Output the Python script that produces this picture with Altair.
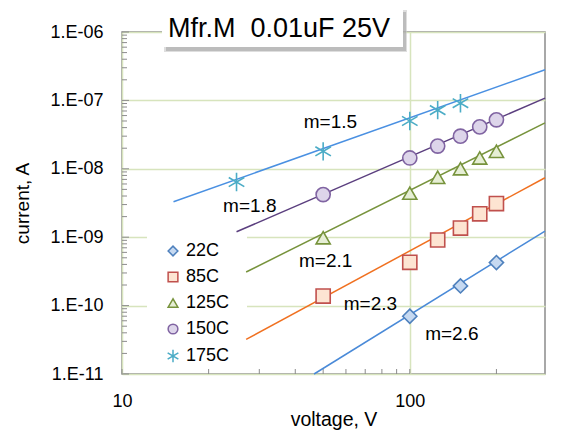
import altair as alt
import pandas as pd

# ---------------- data ----------------
series = ["22C", "85C", "125C", "150C", "175C"]

volts_22 = [100, 150, 200]
cur_22 = [7.0e-11, 1.94e-10, 4.25e-10]

volts_85 = [50, 100, 125, 150, 175, 200]
cur_85 = [1.38e-10, 4.3e-10, 9.1e-10, 1.36e-9, 2.2e-9, 3.1e-9]

volts_125 = [50, 100, 125, 150, 175, 200]
cur_125 = [9.8e-10, 4.4e-9, 7.5e-9, 1.0e-8, 1.44e-8, 1.8e-8]

volts_150 = [50, 100, 125, 150, 175, 200]
cur_150 = [4.2e-9, 1.44e-8, 2.15e-8, 3.0e-8, 4.1e-8, 5.2e-8]

volts_175 = [25, 50, 100, 125, 150]
cur_175 = [6.4e-9, 1.8e-8, 5.0e-8, 7.2e-8, 9.1e-8]

# fitted power-law lines (start / end points)
fit_v_start = [46.5, 27, 27, 25, 15.1]
fit_i_start = [1.0e-11, 3.2e-11, 3.1e-10, 1.2e-9, 3.3e-9]
fit_v_end = [295, 295, 295, 295, 295]
fit_i_end = [1.23e-9, 7.4e-9, 4.7e-8, 1.08e-7, 2.8e-7]

# slope labels
m_text = ["m=2.6", "m=2.3", "m=2.1", "m=1.8", "m=1.5"]
m_v = [140, 73, 51, 27.8, 53]
m_i = [3.85e-11, 1.05e-10, 4.5e-10, 2.86e-9, 4.8e-8]

y_major = [1e-11, 1e-10, 1e-9, 1e-8, 1e-7, 1e-6]
x_major = [10, 100]
y_minor = [m * d for d in [1e-11, 1e-10, 1e-9, 1e-8, 1e-7] for m in range(2, 10)]
x_minor = [20, 30, 40, 50, 60, 70, 80, 90, 200]

title_text = "Mfr.M\u00a0 0.01uF 25V"

# ---------------- tables ----------------
pts = pd.concat([
    pd.DataFrame({"series": s, "voltage": v, "current": c})
    for s, v, c in zip(series,
                       [volts_22, volts_85, volts_125, volts_150, volts_175],
                       [cur_22, cur_85, cur_125, cur_150, cur_175])
], ignore_index=True)

lines = pd.DataFrame({
    "series": series * 2,
    "voltage": fit_v_start + fit_v_end,
    "current": fit_i_start + fit_i_end,
})

labels = pd.DataFrame({"text": m_text, "voltage": m_v, "current": m_i})

FONT = "Liberation Sans"
W, H = 423, 342

xscale = alt.Scale(type="log", domain=[10, 295], nice=False)
yscale = alt.Scale(type="log", domain=[1e-11, 1e-6], nice=False)

asterisk = "M0,-1.3L0,1.3M-1.1,-0.65L1.1,0.65M-1.1,0.65L1.1,-0.65"

fill_colors = ["#c6d9f1", "#fde4d2", "#e6eed5", "#ddd5ea", "transparent"]
stroke_colors = ["#4f81bd", "#c0504d", "#77933c", "#8064a2", "#4bacc6"]
line_colors = ["#4a8ad8", "#f07020", "#77933c", "#5b3f7f", "#4a90e2"]

# white box behind the legend
legend_bg = alt.Chart(pd.DataFrame({"a": [0]})).mark_rect(color="white").encode(
    x=alt.value(25), x2=alt.value(125), y=alt.value(202), y2=alt.value(334)
)

fit = alt.Chart(lines).mark_line(strokeWidth=1.5).encode(
    x=alt.X("voltage:Q", scale=xscale,
            axis=alt.Axis(values=x_major, format="d", title="voltage, V",
                          grid=True, gridColor="#d7e4bd", gridWidth=1.5,
                          ticks=False, tickSize=0, domain=False, labelFlush=False,
                          labelFontSize=18, labelFont=FONT, labelPadding=18,
                          labelColor="black",
                          titleFontSize=19.5, titleFont=FONT, titleFontWeight="normal",
                          titleColor="black", titleBaseline="alphabetic",
                          titleX=W / 2, titleY=51)),
    y=alt.Y("current:Q", scale=yscale,
            axis=alt.Axis(values=y_major, title="current, A",
                          labelExpr="'1.E-' + (round(-log(datum.value)/LN10) < 10 ? '0' : '') + round(-log(datum.value)/LN10)",
                          grid=True, gridColor="#d7e4bd", gridWidth=1.5,
                          ticks=False, tickSize=0, domain=False, labelFlush=False,
                          labelFontSize=18, labelFont=FONT, labelPadding=19,
                          labelColor="black",
                          titleFontSize=19, titleFont=FONT, titleFontWeight="normal",
                          titleColor="black", titleBaseline="alphabetic",
                          titleX=-94, titleY=H / 2, titleAngle=270)),
    color=alt.Color("series:N", scale=alt.Scale(domain=series, range=line_colors),
                    legend=None),
    detail="series:N",
)

points = alt.Chart(pts).mark_point(filled=False, size=200, strokeWidth=1.6, opacity=1).encode(
    x=alt.X("voltage:Q", scale=xscale),
    y=alt.Y("current:Q", scale=yscale),
    shape=alt.Shape("series:N", scale=alt.Scale(domain=series,
                    range=["diamond", "square", "triangle-up", "circle", asterisk]),
                    title=None),
    fill=alt.Fill("series:N", scale=alt.Scale(domain=series, range=fill_colors), title=None),
    stroke=alt.Stroke("series:N", scale=alt.Scale(domain=series, range=stroke_colors), title=None),
)

mlabels = alt.Chart(labels).mark_text(fontSize=19, font=FONT, color="black",
                                      align="center", baseline="middle").encode(
    x=alt.X("voltage:Q", scale=xscale),
    y=alt.Y("current:Q", scale=yscale),
    text="text:N",
)

yminor = alt.Chart(pd.DataFrame({"current": y_minor})).mark_rule(color="#8c8c8c", strokeWidth=1).encode(
    y=alt.Y("current:Q", scale=yscale), x=alt.value(0), x2=alt.value(5)
)
ymajor = alt.Chart(pd.DataFrame({"current": y_major})).mark_rule(color="#8c8c8c", strokeWidth=1).encode(
    y=alt.Y("current:Q", scale=yscale), x=alt.value(0), x2=alt.value(7)
)
xminor = alt.Chart(pd.DataFrame({"voltage": x_minor + x_major})).mark_rule(color="#8c8c8c", strokeWidth=1).encode(
    x=alt.X("voltage:Q", scale=xscale), y=alt.value(H), y2=alt.value(H - 5)
)

tdf = pd.DataFrame({"t": [title_text]})
shadow = alt.Chart(tdf).mark_rect(color="#9a9a9a", opacity=0.5).encode(
    x=alt.value(44), x2=alt.value(284), y=alt.value(-20), y2=alt.value(19)
)
shadow2 = alt.Chart(tdf).mark_rect(color="#c8c8c8", opacity=0.6).encode(
    x=alt.value(42), x2=alt.value(285), y=alt.value(-22), y2=alt.value(20)
)
box = alt.Chart(tdf).mark_rect(color="white").encode(
    x=alt.value(40), x2=alt.value(281), y=alt.value(-24), y2=alt.value(15)
)
ttext = alt.Chart(tdf).mark_text(fontSize=27, font=FONT, color="black",
                                 align="left", baseline="alphabetic").encode(
    x=alt.value(46), y=alt.value(5), text="t:N"
)

chart = alt.layer(
    legend_bg, yminor, ymajor, xminor, fit, points, mlabels, shadow2, shadow, box, ttext
).properties(
    width=W, height=H,
    autosize=alt.AutoSizeParams(type="none"),
    padding={"left": 122, "top": 32, "right": 21, "bottom": 63},
    background="white",
).resolve_scale(
    color="independent"
).configure_view(
    stroke="#8c8c8c", strokeWidth=1.5
).configure_legend(
    orient="none", legendX=42, legendY=210,
    labelFontSize=18, labelFont=FONT, labelColor="black",
    symbolSize=95, symbolStrokeWidth=1.5, labelOffset=4,
    rowPadding=8, padding=0,
)

chart.save("out.html", embed_options={"renderer": "svg", "actions": False})
